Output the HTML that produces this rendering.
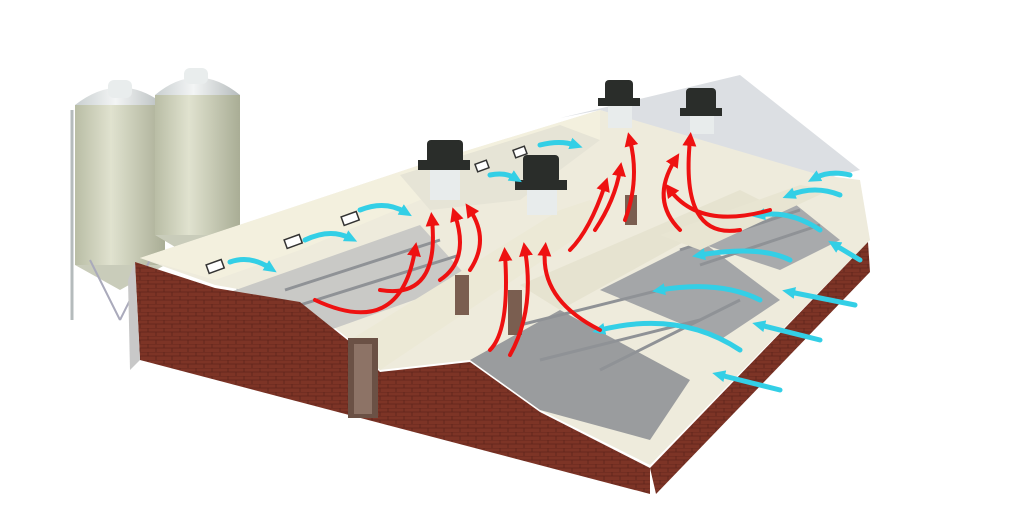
<!DOCTYPE html>
<html><head><meta charset="utf-8"><style>
html,body{margin:0;padding:0;background:#fff;width:1024px;height:514px;overflow:hidden}
</style></head><body>
<svg width="1024" height="514" viewBox="0 0 1024 514" xmlns="http://www.w3.org/2000/svg">
<defs>
<linearGradient id="silo" x1="0" x2="1"><stop offset="0" stop-color="#b9bda5"/><stop offset="0.4" stop-color="#e0e2cf"/><stop offset="1" stop-color="#a9ad95"/></linearGradient>
<linearGradient id="silotop" x1="0" x2="1"><stop offset="0" stop-color="#c9cfd0"/><stop offset="0.45" stop-color="#f3f5f5"/><stop offset="1" stop-color="#b5bbbc"/></linearGradient>
<pattern id="brick" width="16" height="8" patternUnits="userSpaceOnUse"><rect width="16" height="8" fill="#7d3426"/><path d="M0 0H16M0 4H16M4 0V4M12 4V8" stroke="#5e241a" stroke-width="0.8"/></pattern>
<marker id="ar" markerUnits="userSpaceOnUse" markerWidth="16" markerHeight="16" refX="6" refY="8" orient="auto"><path d="M0,1L14,8L0,15z" fill="#ee1111"/></marker>
<marker id="ab" markerUnits="userSpaceOnUse" markerWidth="14" markerHeight="14" refX="5" refY="7" orient="auto"><path d="M0,1L13,7L0,13z" fill="#33cfe6"/></marker>
</defs>
<!-- silos -->
<g>
<path d="M72 110 L72 320 M238 95 L238 300" stroke="#b5bbbc" stroke-width="3"/>
<rect x="75" y="105" width="90" height="160" fill="url(#silo)"/>
<path d="M75 105 Q120 70 165 105Z" fill="url(#silotop)"/>
<rect x="108" y="80" width="24" height="18" rx="6" fill="#e9eded"/>
<path d="M75 265 L120 290 L165 265Z" fill="#c9ccba"/>
<rect x="155" y="95" width="85" height="140" fill="url(#silo)"/>
<path d="M155 95 Q197 60 240 95Z" fill="url(#silotop)"/>
<rect x="184" y="68" width="24" height="16" rx="6" fill="#e9eded"/>
<path d="M155 235 L197 260 L240 235Z" fill="#c9ccba"/>
<path d="M90 260 L120 320 M150 260 L120 320" stroke="#aab" stroke-width="2"/>
</g>
<!-- roof / back areas -->
<polygon points="560,118 740,75 860,170 820,180 600,110" fill="#dcdfe3"/>
<polygon points="140,258 420,165 600,110 820,175 860,180 870,240 650,465 540,410 470,360 380,370 350,340 300,300 215,285" fill="#eeebdc"/>
<polygon points="140,258 420,165 600,110 600,140 420,200 300,250 215,280" fill="#f3f0de"/>
<polygon points="400,175 560,125 600,140 520,200 430,210" fill="#e6e4d6"/>
<!-- floors -->
<polygon points="230,292 420,225 470,280 330,330" fill="#c9c9c6"/>
<polygon points="470,360 560,310 690,380 650,440 540,410" fill="#9a9c9e"/>
<polygon points="600,290 700,240 780,300 720,340" fill="#a4a6a8"/>
<polygon points="690,240 790,200 840,240 780,270" fill="#a8aaac"/>
<g stroke="#8f9296" stroke-width="3" fill="none">
<path d="M285 290 L440 240 M300 305 L460 255"/>
<path d="M520 325 L660 290 M540 360 L700 320 M600 370 L740 300"/>
<path d="M680 250 L800 210 M700 265 L820 225"/>
</g>
<!-- partition walls -->
<polygon points="380,370 350,340 560,210 590,200 610,215" fill="#ece9d6"/>
<polygon points="560,310 520,285 740,190 760,200" fill="#e6e3d0"/>
<polygon points="700,250 660,235 800,185 830,190" fill="#e8e5d2"/>
<!-- brick walls -->
<polygon points="135,262 215,288 300,302 350,342 380,372 470,362 540,412 650,468 650,494 140,360" fill="url(#brick)"/>
<polygon points="650,468 868,242 870,272 656,494" fill="url(#brick)"/>
<polygon points="135,262 140,360 130,370 128,280" fill="#c8c8c8"/>
<rect x="348" y="338" width="30" height="80" fill="#6b5145"/>
<rect x="354" y="344" width="18" height="70" fill="#8d7366"/>
<rect x="455" y="275" width="14" height="40" fill="#7a5e50"/>
<rect x="508" y="290" width="14" height="45" fill="#7a5e50"/>
<rect x="625" y="195" width="12" height="30" fill="#7a5e50"/>
<!-- vents -->
<g fill="#2a2d2a">
<rect x="427" y="140" width="36" height="28" rx="4"/><rect x="418" y="160" width="52" height="10"/>
<rect x="523" y="155" width="36" height="28" rx="4"/><rect x="515" y="180" width="52" height="10"/>
<rect x="605" y="80" width="28" height="22" rx="4"/><rect x="598" y="98" width="42" height="8"/>
<rect x="686" y="88" width="30" height="24" rx="4"/><rect x="680" y="108" width="42" height="8"/>
</g>
<g fill="#e8ecec"><rect x="430" y="170" width="30" height="30"/><rect x="527" y="190" width="30" height="25"/><rect x="608" y="106" width="24" height="22"/><rect x="690" y="116" width="24" height="18"/></g>
<g fill="#fff" stroke="#333" stroke-width="1.5">
<rect x="207" y="262" width="16" height="9" transform="rotate(-20 215 266)"/>
<rect x="285" y="237" width="16" height="9" transform="rotate(-20 293 241)"/>
<rect x="342" y="214" width="16" height="9" transform="rotate(-20 350 218)"/>
<rect x="476" y="162" width="12" height="8" transform="rotate(-20 482 166)"/>
<rect x="514" y="148" width="12" height="8" transform="rotate(-20 520 152)"/>
</g>
<!-- blue arrows -->
<g stroke="#33cfe6" stroke-width="5" fill="none" marker-end="url(#ab)" stroke-linecap="round">
<path d="M230 262 Q250 255 270 268"/><path d="M305 240 Q330 228 350 238"/><path d="M360 210 Q385 200 405 212"/>
<path d="M490 175 Q505 172 515 178"/><path d="M540 145 Q560 140 575 145"/>
<path d="M780 390 L720 375"/><path d="M820 340 L760 325"/><path d="M855 305 L790 292"/><path d="M860 260 L835 245"/>
<path d="M740 350 Q680 310 600 330"/><path d="M760 300 Q720 280 660 290"/><path d="M790 260 Q760 245 700 255"/><path d="M820 230 Q790 210 760 215"/><path d="M840 195 Q815 185 790 195"/><path d="M850 175 Q830 170 815 178"/>
</g>
<!-- red arrows -->
<g stroke="#ee1111" stroke-width="4" fill="none" marker-end="url(#ar)" stroke-linecap="round">
<path d="M315 300 Q400 340 415 250"/><path d="M380 290 Q440 300 432 220"/><path d="M440 280 Q470 260 455 215"/><path d="M470 270 Q490 240 470 210"/>
<path d="M490 350 Q510 330 505 255"/><path d="M510 355 Q535 310 525 250"/><path d="M600 330 Q540 300 545 250"/>
<path d="M570 250 Q590 230 605 185"/><path d="M595 230 Q615 200 620 170"/><path d="M625 220 Q640 180 630 140"/>
<path d="M680 230 Q650 200 675 160"/><path d="M770 210 Q700 230 670 190"/><path d="M740 230 Q680 240 690 140"/>
</g>
</svg>
</body></html>
